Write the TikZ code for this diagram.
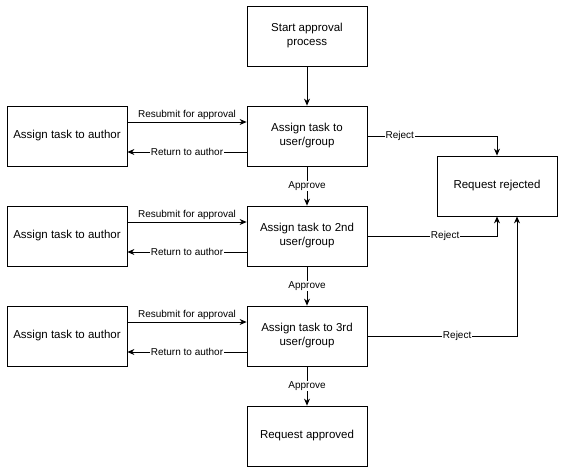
\documentclass[tikz,border=0pt]{standalone}
\usepackage{fontspec}
\setmainfont{Liberation Sans}
\usetikzlibrary{arrows.meta}
\begin{document}
\begin{tikzpicture}[x=1pt,y=-1pt,
 box/.style={draw,line width=0.8pt,minimum width=120pt,minimum height=60pt,align=center,font=\fontsize{11.5}{14}\selectfont,inner sep=2pt},
 ar/.style={-{Stealth[length=7pt,width=6pt]},line width=0.8pt},
 lab/.style={fill=white,font=\fontsize{10}{12}\selectfont,inner sep=1pt}]
\useasboundingbox (0,0) rectangle (564,472);
\node[box] (s) at (307,36) {Start approval\\process};
\node[box] (a1) at (307,136) {Assign task to\\user/group};
\node[box] (a2) at (307,236) {Assign task to 2nd\\user/group};
\node[box] (a3) at (307,336) {Assign task to 3rd\\user/group};
\node[box] (ok) at (307,436) {Request approved};
\node[box] (rej) at (497,186) {Request rejected};
\foreach \i/\y in {1/136,2/236,3/336}{
 \node[box] (l\i) at (67,\y) {Assign task to author};
 \draw[ar] ([yshift=14pt]l\i.east) -- node[lab,above,yshift=1pt,fill=none]{Resubmit for approval} ([yshift=14pt]a\i.west);
 \draw[ar] ([yshift=-16pt]a\i.west) -- node[lab]{Return to author} ([yshift=-16pt]l\i.east);
}
\draw[ar] (s) -- (a1);
\draw[ar] (a1) -- node[lab]{Approve} (a2);
\draw[ar] (a2) -- node[lab]{Approve} (a3);
\draw[ar] (a3) -- node[lab]{Approve} (ok);
\coordinate (r1) at (497,136);
\coordinate (r2) at (497,236);
\coordinate (r3) at (517,336);
\draw[ar] (a1.east) -- node[lab,pos=0.25]{Reject} (r1) -- (rej.north);
\draw[ar] (a2.east) -- node[lab,pos=0.6]{Reject} (r2) -- (rej.south);
\draw[ar] (a3.east) -- node[lab,pos=0.6]{Reject} (r3) -- (rej.south -| r3);
\end{tikzpicture}
\end{document}
